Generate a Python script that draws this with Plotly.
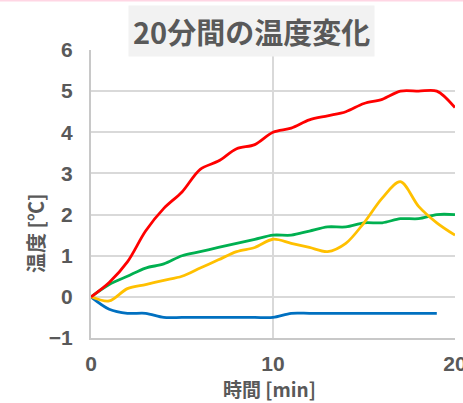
import plotly.graph_objects as go

# minutes elapsed
minutes = list(range(0, 21))

# temperature change [°C] for each sample
red_vals = [0, 0.35, 0.85, 1.6, 2.15, 2.55, 3.1, 3.3, 3.6, 3.7, 4.0,
            4.1, 4.3, 4.4, 4.5, 4.7, 4.8, 5.0, 5.0, 5.0, 4.6]
green_vals = [0, 0.3, 0.5, 0.7, 0.8, 1.0, 1.1, 1.2, 1.3, 1.4, 1.5,
              1.5, 1.6, 1.7, 1.7, 1.8, 1.8, 1.9, 1.9, 2.0, 2.0]
yellow_vals = [0, -0.1, 0.2, 0.3, 0.4, 0.5, 0.7, 0.9, 1.1, 1.2, 1.4,
               1.3, 1.2, 1.1, 1.3, 1.8, 2.4, 2.8, 2.2, 1.8, 1.5]
blue_vals = [0, -0.3, -0.4, -0.4, -0.5, -0.5, -0.5, -0.5, -0.5, -0.5, -0.5,
             -0.4, -0.4, -0.4, -0.4, -0.4, -0.4, -0.4, -0.4, -0.4]

x_ticks = [0, 10, 20]
y_ticks = [-1, 0, 1, 2, 3, 4, 5, 6]

series = [
    (blue_vals, "#0070C0"),
    (green_vals, "#00B050"),
    (yellow_vals, "#FFC000"),
    (red_vals, "#FF0000"),
]

fig = go.Figure()
for vals, color in series:
    fig.add_trace(go.Scatter(
        x=minutes[:len(vals)], y=vals, mode="lines",
        line=dict(color=color, width=2.8, shape="spline", smoothing=0.9),
        showlegend=False, hoverinfo="skip",
    ))

tick_font = dict(family="Liberation Sans, Arial, sans-serif", size=21, color="#595959", weight="bold")
jp_font = "Noto Sans CJK JP, sans-serif"

fig.update_layout(
    width=463, height=403,
    margin=dict(l=91, r=8, t=50, b=65, autoexpand=False),
    paper_bgcolor="white", plot_bgcolor="white",
    xaxis=dict(
        range=[0, 20], tickvals=x_ticks, ticks="", tickfont=tick_font,
        ticklabeloverflow="allow", ticklabelstandoff=6, automargin=False,
        showgrid=True, gridcolor="#d9d9d9", gridwidth=1.5,
        showline=True, linecolor="#c8c8c8", linewidth=2,
        zeroline=False, mirror=False,
    ),
    yaxis=dict(
        range=[-1, 6], tickvals=y_ticks, ticks="", tickfont=tick_font,
        automargin=False,
        showgrid=True, gridcolor="#d9d9d9", gridwidth=1.5,
        showline=True, linecolor="#c8c8c8", linewidth=2,
        zeroline=False, ticklabelstandoff=12,
    ),
    annotations=[
        dict(text="<b>20分間の温度変化</b>", xref="paper", yref="paper",
             x=0.442, y=1.0 + 19 / 288, xanchor="center", yanchor="middle",
             showarrow=False, bgcolor="#f2f2f2", borderpad=4,
             font=dict(family=jp_font, size=29, color="#595959")),
        dict(text="<b>時間 [min]</b>", xref="paper", yref="paper",
             x=0.49, y=-50 / 288, xanchor="center", yanchor="middle",
             showarrow=False, font=dict(family=jp_font, size=19, color="#595959")),
        dict(text="<b>温度 [℃]</b>", xref="paper", yref="paper",
             x=-56 / 364, y=(338 - 233) / 288, xanchor="center", yanchor="middle",
             textangle=-90, showarrow=False,
             font=dict(family=jp_font, size=20, color="#595959")),
    ],
    shapes=[
        dict(type="line", xref="paper", yref="paper", x0=-1, x1=2,
             y0=1 + 49.5 / 288, y1=1 + 49.5 / 288,
             line=dict(color="#ffd6e4", width=2)),
    ],
)

fig.write_html("out.html")
